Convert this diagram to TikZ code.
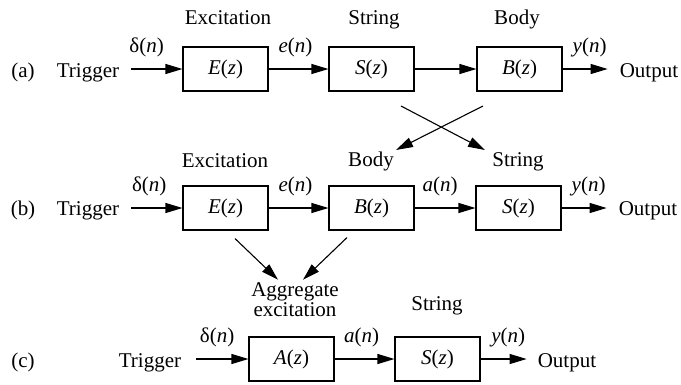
\documentclass[tikz,border=0pt]{standalone}
\usepackage{fontspec}
\setmainfont{Liberation Serif}
\newfontfamily\tms{Liberation Serif}
\usetikzlibrary{arrows.meta}
\begin{document}
\begin{tikzpicture}[x=1pt,y=-1pt,
  every node/.style={font=\tms\fontsize{21}{20}\selectfont},
  blk/.style={draw, line width=1.1pt, minimum width=85pt, minimum height=44pt, inner sep=0pt},
  txt/.style={inner sep=0pt, anchor=base},
  sig/.style={line width=1.1pt, -{Triangle[length=17pt,width=10pt]}},
  lbl/.style={inner sep=0pt, anchor=base, yshift=17pt}]
\useasboundingbox (0,0) rectangle (681,384);

% ---------- row (a) ----------
\node[txt] (la) at (23,77) {(a)};
\node[txt] (trigA) at (88,77) {Trigger};
\node[blk] (Ea) at (225.5,69) {\textit{E}(\textit{z})};
\node[blk] (Sa) at (371.5,69) {\textit{S}(\textit{z})};
\node[blk] (Ba) at (519.5,69) {\textit{B}(\textit{z})};
\node[txt] (outA) at (649,77) {Output};
\node[txt] (tEa) at (228,24) {Excitation};
\node[txt] (tSa) at (374,24) {String};
\node[txt] (tBa) at (517,24) {Body};
\draw[sig] ([xshift=12pt]trigA.east |- Ea.west) -- node[lbl, pos=0.3]{δ(\textit{n})} (Ea.west);
\draw[sig] (Ea.east) -- node[lbl, pos=0.45]{\textit{e}(\textit{n})} (Sa.west);
\draw[sig] (Sa.east) -- (Ba.west);
\draw[sig] (Ba.east) -- node[lbl, pos=0.6]{\textit{y}(\textit{n})} ([xshift=-12pt]outA.west |- Ba.east);

% ---------- crossing ----------
\coordinate (c1s) at (401,106);
\coordinate (c1e) at (485,150);
\coordinate (c2s) at (483,106);
\coordinate (c2e) at (396,150);
\draw[sig] (c1s) -- (c1e);
\draw[sig] (c2s) -- (c2e);

% ---------- row (b) ----------
\node[txt] (lb) at (23,215) {(b)};
\node[txt] (trigB) at (88,215) {Trigger};
\node[blk] (Eb) at (225.5,208) {\textit{E}(\textit{z})};
\node[blk] (Bb) at (371.5,208) {\textit{B}(\textit{z})};
\node[blk] (Sb) at (518.5,208) {\textit{S}(\textit{z})};
\node[txt] (outB) at (648,215) {Output};
\node[txt] (tEb) at (225,167) {Excitation};
\node[txt] (tBb) at (371,166) {Body};
\node[txt] (tSb) at (518,166) {String};
\draw[sig] ([xshift=12pt]trigB.east |- Eb.west) -- node[lbl, pos=0.35]{δ(\textit{n})} (Eb.west);
\draw[sig] (Eb.east) -- node[lbl, pos=0.45]{\textit{e}(\textit{n})} (Bb.west);
\draw[sig] (Bb.east) -- node[lbl, pos=0.42]{\textit{a}(\textit{n})} (Sb.west);
\draw[sig] (Sb.east) -- node[lbl, pos=0.6]{\textit{y}(\textit{n})} ([xshift=-12pt]outB.west |- Sb.east);

% ---------- aggregate ----------
\node[inner sep=0pt, align=center] (agg) at (295,300) {Aggregate\\excitation};
\draw[sig] ([xshift=9.5pt,yshift=-8pt]Eb.south) -- ([xshift=-17pt,yshift=3pt]agg.north);
\draw[sig] ([xshift=-24.5pt,yshift=-7pt]Bb.south) -- ([xshift=8pt,yshift=3pt]agg.north);

% ---------- row (c) ----------
\node[txt] (lc) at (23,367) {(c)};
\node[txt] (trigC) at (150,367) {Trigger};
\node[blk] (Ac) at (291.5,359) {\textit{A}(\textit{z})};
\node[blk] (Sc) at (437.5,359) {\textit{S}(\textit{z})};
\node[txt] (outC) at (567,367) {Output};
\node[txt] (tSc) at (437,310) {String};
\draw[sig] ([xshift=15pt]trigC.east |- Ac.west) -- node[lbl, pos=0.4]{δ(\textit{n})} (Ac.west);
\draw[sig] (Ac.east) -- node[lbl, pos=0.45]{\textit{a}(\textit{n})} (Sc.west);
\draw[sig] (Sc.east) -- node[lbl, pos=0.6]{\textit{y}(\textit{n})} ([xshift=-11pt]outC.west |- Sc.east);
\end{tikzpicture}
\end{document}
